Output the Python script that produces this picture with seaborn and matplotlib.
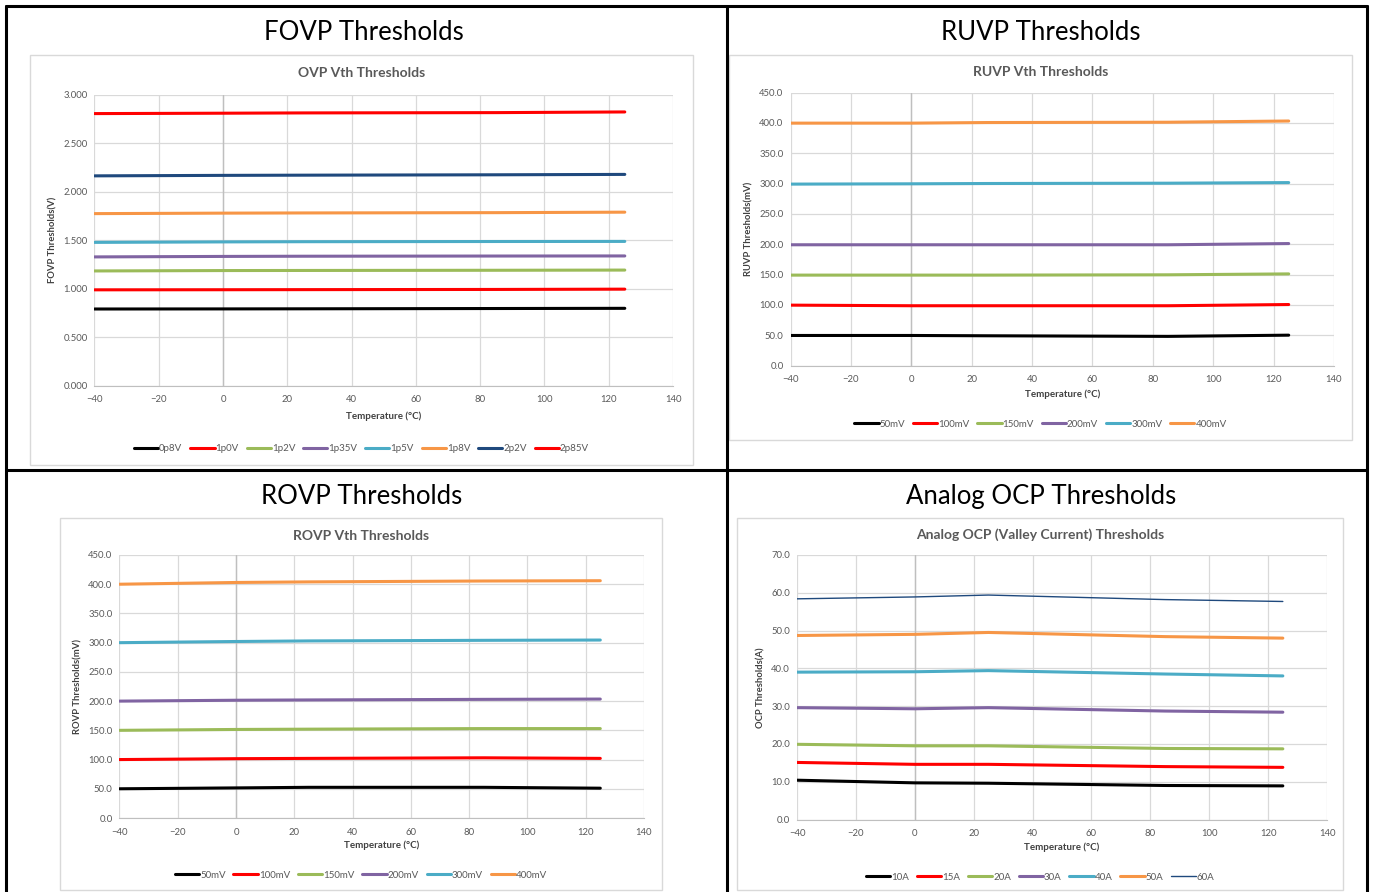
import numpy as np
import pandas as pd
import matplotlib
matplotlib.use('Agg')
import matplotlib.pyplot as plt
from matplotlib.lines import Line2D
from matplotlib.patches import Rectangle
import seaborn as sns

# ---- dados ----
temps = [-40, 0, 25, 85, 125]

fovp_nomes = ['0p8V', '1p0V', '1p2V', '1p35V', '1p5V', '1p8V', '2p2V', '2p85V']
fovp_vals = [
    [0.790, 0.791, 0.792, 0.795, 0.797],
    [0.988, 0.989, 0.990, 0.992, 0.995],
    [1.183, 1.187, 1.188, 1.190, 1.192],
    [1.328, 1.333, 1.335, 1.337, 1.338],
    [1.478, 1.483, 1.485, 1.487, 1.488],
    [1.775, 1.780, 1.782, 1.785, 1.790],
    [2.165, 2.170, 2.172, 2.176, 2.180],
    [2.808, 2.812, 2.815, 2.818, 2.825],
]

ruvp_nomes = ['50mV', '100mV', '150mV', '200mV', '300mV', '400mV']
ruvp_vals = [
    [49.5, 49.5, 49.0, 48.0, 50.0],
    [99.5, 98.5, 98.5, 98.5, 100.5],
    [149.0, 149.0, 149.0, 149.5, 151.0],
    [199.0, 199.0, 199.0, 199.0, 201.0],
    [299.0, 299.5, 300.0, 300.5, 301.5],
    [399.5, 399.5, 400.5, 401.0, 403.0],
]

rovp_nomes = ['50mV', '100mV', '150mV', '200mV', '300mV', '400mV']
rovp_vals = [
    [50.0, 51.5, 52.5, 52.5, 51.0],
    [100.0, 101.5, 102.0, 103.0, 102.0],
    [150.0, 151.5, 152.0, 153.0, 153.0],
    [200.0, 201.5, 202.0, 203.0, 203.5],
    [300.0, 302.0, 303.0, 304.0, 304.5],
    [400.0, 403.0, 404.0, 405.5, 406.0],
]

ocp_nomes = ['10A', '15A', '20A', '30A', '40A', '50A', '60A']
ocp_vals = [
    [10.4, 9.7, 9.6, 9.0, 8.9],
    [15.1, 14.6, 14.6, 14.0, 13.8],
    [19.9, 19.5, 19.5, 18.8, 18.7],
    [29.6, 29.3, 29.6, 28.7, 28.4],
    [39.0, 39.1, 39.4, 38.5, 38.0],
    [48.7, 49.0, 49.5, 48.4, 48.0],
    [58.4, 58.9, 59.4, 58.2, 57.7],
]

# cores estilo Excel
PRETO, VERM, VERDE, ROXO, CIANO, LARANJA, AZUL = (
    '#000000', '#FF0000', '#9BBB59', '#8064A2', '#4BACC6', '#F79646', '#1F497D')
fovp_cores = [PRETO, VERM, VERDE, ROXO, CIANO, LARANJA, AZUL, VERM]
mv_cores = [PRETO, VERM, VERDE, ROXO, CIANO, LARANJA]
ocp_cores = [PRETO, VERM, VERDE, ROXO, CIANO, LARANJA, AZUL]

sns.set_style('white')
plt.rcParams['font.family'] = ['Lato', 'DejaVu Sans']

W, H = 1373, 892
fig = plt.figure(figsize=(W / 100, H / 100), dpi=100)
CINZA_TXT = '#595959'


def fx(px):
    return px / W


def fy(py):
    return 1 - py / H


def moldura(l, t, r, b):
    fig.add_artist(Rectangle((fx(l), fy(b)), fx(r - l), (b - t) / H,
                             transform=fig.transFigure, fill=False,
                             edgecolor='#D9D9D9', lw=1.0))


def painel(box, frame, nomes, vals, cores, ylim, ystep, yfmt, titulo, ylabel,
           title_y, xlabel_y, legend_y, larguras=None):
    l, t, r, b = box
    moldura(*frame)
    ax = fig.add_axes([fx(l), fy(b), fx(r - l), (b - t) / H])
    for i, (n, v, c) in enumerate(zip(nomes, vals, cores)):
        lw = larguras[i] if larguras else 2.2
        sns.lineplot(x=temps, y=v, color=c, lw=lw, ax=ax, label=n)
    ax.set_xlim(-40, 140)
    ax.set_ylim(*ylim)
    ax.set_xticks(np.arange(-40, 141, 20))
    ax.set_yticks(np.arange(ylim[0], ylim[1] + ystep / 2, ystep))
    ax.set_yticklabels([yfmt.format(v) for v in ax.get_yticks()])
    ax.grid(True, color='#D9D9D9', lw=0.9)
    ax.axvline(0, color='#BFBFBF', lw=1.0, zorder=1)
    for s in ['top', 'right', 'left']:
        ax.spines[s].set_visible(False)
    ax.spines['bottom'].set_color('#BFBFBF')
    ax.tick_params(axis='both', labelsize=6.8, colors=CINZA_TXT, length=0)
    ax.tick_params(axis='x', pad=7)
    ax.tick_params(axis='y', pad=5)
    ax.set_xlabel('')
    ax.set_ylabel(ylabel, fontsize=6.8, fontweight='bold', color='#404040', labelpad=4)
    cx = (frame[0] + frame[2]) / 2
    fig.text(fx(cx), fy(title_y), titulo, ha='center', va='center',
             fontsize=10, fontweight='bold', color=CINZA_TXT)
    fig.text(fx((l + r) / 2), fy(xlabel_y), 'Temperature (°C)', ha='center', va='center',
             fontsize=7, fontweight='bold', color='#404040')
    handles, labels = ax.get_legend_handles_labels()
    ax.legend(handles, labels, loc='center', bbox_to_anchor=(fx(cx), fy(legend_y)),
              bbox_transform=fig.transFigure, ncol=len(labels), frameon=False,
              fontsize=7, handlelength=2.5, handletextpad=0.1, columnspacing=0.8,
              labelcolor=CINZA_TXT)
    return ax


# ---- linhas da tabela ----
for (x0, y0, x1, y1) in [(6, 6, 1367, 6), (6, 6, 6, 892), (1367, 6, 1367, 892),
                         (727, 6, 727, 892), (6, 470, 1367, 470)]:
    fig.add_artist(Line2D([fx(x0), fx(x1)], [fy(y0), fy(y1)], transform=fig.transFigure,
                          color='black', lw=2.2))

for txt, cx, cy in [('FOVP Thresholds', 364, 32), ('RUVP Thresholds', 1041, 32),
                    ('ROVP Thresholds', 362, 496), ('Analog OCP Thresholds', 1041, 496)]:
    fig.text(fx(cx), fy(cy), txt, ha='center', va='center', fontsize=18.5, color='black')

painel((94.5, 95, 673, 385.5), (30, 55, 693, 465), fovp_nomes, fovp_vals, fovp_cores,
       (0, 3.0), 0.5, '{:.3f}', 'OVP Vth Thresholds', 'FOVP Thresholds(V)', 73, 416, 449)

painel((790.5, 92.5, 1334, 365.5), (729, 55, 1352, 440), ruvp_nomes, ruvp_vals, mv_cores,
       (0, 450), 50, '{:.1f}', 'RUVP Vth Thresholds', 'RUVP Thresholds(mV)', 72, 394, 424)

painel((119.5, 555, 644, 818), (60, 518, 662, 890), rovp_nomes, rovp_vals, mv_cores,
       (0, 450), 50, '{:.1f}', 'ROVP Vth Thresholds', 'ROVP Thresholds(mV)', 536, 845, 875)

painel((797, 555, 1327, 819.5), (737, 518, 1343, 890), ocp_nomes, ocp_vals, ocp_cores,
       (0, 70), 10, '{:.1f}', 'Analog OCP (Valley Current) Thresholds', 'OCP Thresholds(A)',
       535, 847, 877, larguras=[2.2] * 6 + [1.0])

fig.savefig('out.png', dpi=100)
